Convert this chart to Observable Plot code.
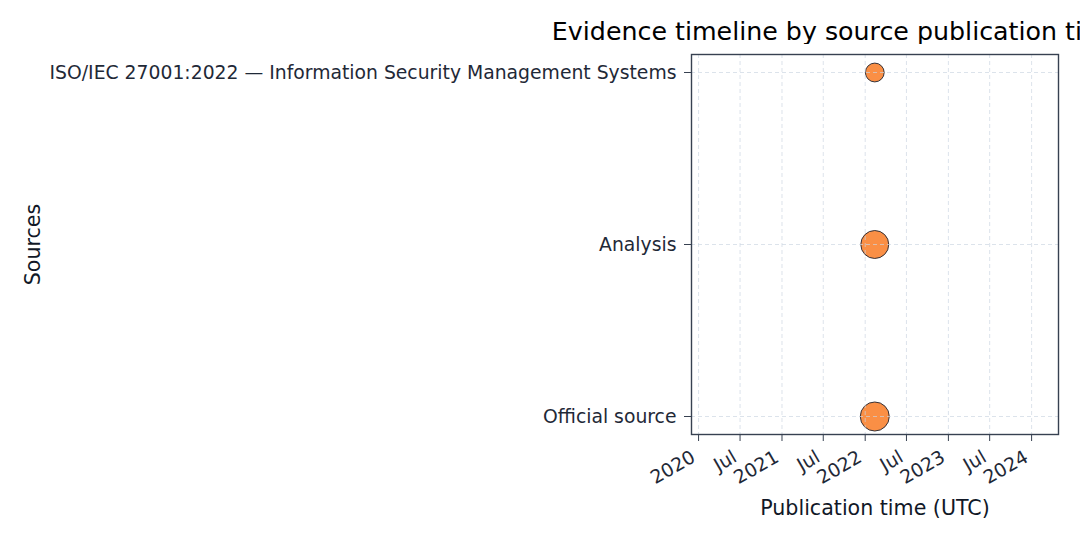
<!DOCTYPE html>
<html>
<head>
<meta charset="utf-8">
<script src="https://cdn.jsdelivr.net/npm/d3@7"></script>
<script src="https://cdn.jsdelivr.net/npm/@observablehq/plot@0.6"></script>
<style>
  html, body { margin: 0; padding: 0; background: #fff; overflow: hidden; }
  body { width: 1080px; height: 540px; font-family: "DejaVu Sans", sans-serif; }
  #title-wrap { position: relative; width: 1080px; height: 44px; overflow: hidden; }
  #title { position: absolute; left: 876px; top: 19px; transform: translateX(-50%);
           white-space: nowrap; font-size: 25.3px; line-height: 25px; color: #000; }
  g[aria-label="x-axis label"] text, g[aria-label="y-axis label"] text { font-size: 20.6px; fill: #111827; }
</style>
</head>
<body>
<div id="title-wrap"><div id="title">Evidence timeline by source publication time (UTC)</div></div>
<div id="chart"></div>
<script>
const sources = [
  "ISO/IEC 27001:2022 — Information Security Management Systems",
  "Analysis",
  "Official source"
];
const published = ["2022-02-12", "2022-02-12", "2022-02-12"];
const weights = [0.42, 0.93, 1.0];
const tickDates = ["2020-01-01","2020-07-01","2021-01-01","2021-07-01","2022-01-01","2022-07-01","2023-01-01","2023-07-01","2024-01-01"];
const tickLabels = ["2020","Jul","2021","Jul","2022","Jul","2023","Jul","2024"];
const xDomain = ["2019-12-01", "2024-04-28"];

const data = sources.map((s, i) => ({source: s, date: new Date(published[i]), weight: weights[i]}));
const ticks = tickDates.map(d => new Date(d));
const labelOf = new Map(ticks.map((t, i) => [+t, tickLabels[i]]));

const grid = {stroke: "#cbd5e1", strokeOpacity: 0.75, strokeDasharray: "4,3", strokeWidth: 0.9};

const chart = Plot.plot({
  width: 1080,
  height: 496,
  marginLeft: 691,
  marginRight: 22,
  marginTop: 10,
  marginBottom: 106,
  style: {fontFamily: "DejaVu Sans", fontSize: "18.8px", color: "#1f2937", background: "#fff"},
  x: {type: "utc", domain: xDomain.map(d => new Date(d))},
  y: {type: "point", domain: sources, padding: 0.1},
  r: {type: "sqrt", domain: [0, 1], range: [0, 14.5]},
  marks: [
    Plot.dot(data, {x: "date", y: "source", r: "weight", fill: "#f97316", fillOpacity: 0.8, stroke: "#1f2430", strokeWidth: 0.9}),
    Plot.gridX(ticks, grid),
    Plot.gridY(sources, grid),
    Plot.frame({stroke: "#374151", strokeWidth: 1.4}),
    Plot.axisY(sources, {anchor: "left", tickSize: 7, tickPadding: 8, stroke: "#374151", fill: "#1f2937",
      label: "Sources", labelAnchor: "center", labelOffset: 666}),
    Plot.axisX(ticks, {anchor: "bottom", tickSize: 7, tickPadding: 0, stroke: "#374151", tickFormat: () => "",
      label: "Publication time (UTC)", labelArrow: "none", labelAnchor: "center", labelOffset: 80}),
    Plot.axisX(ticks, {anchor: "bottom", tickSize: 0, tickPadding: 21, dx: -5, fill: "#1f2937",
      tickRotate: -30, textAnchor: "end", tickFormat: d => labelOf.get(+d), label: null})
  ]
});
document.getElementById("chart").appendChild(chart);
</script>
</body>
</html>
